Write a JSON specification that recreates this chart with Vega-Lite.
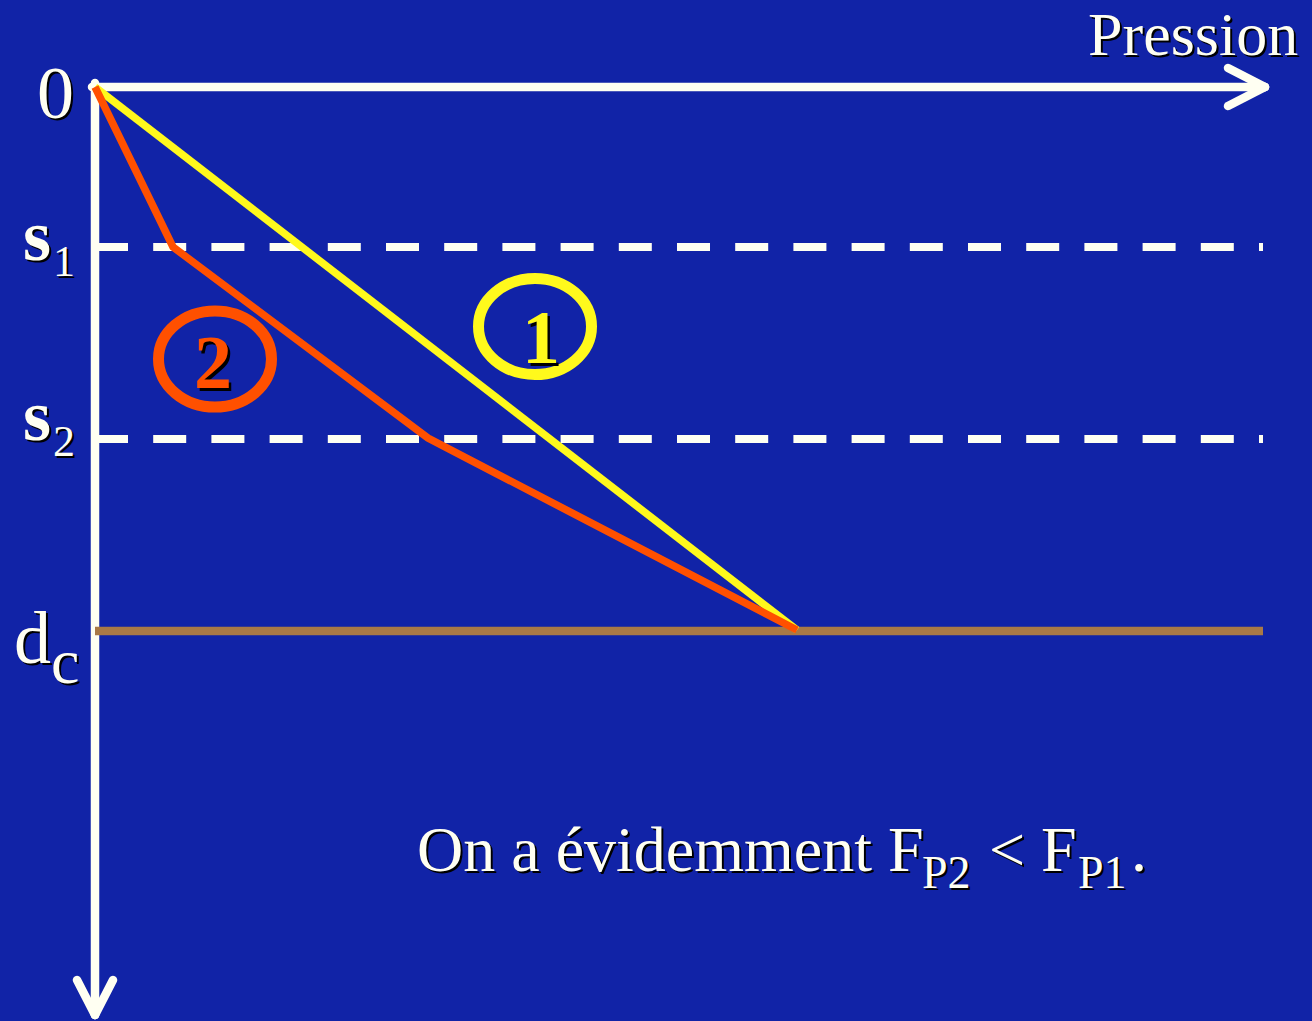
{
  "$schema": "https://vega.github.io/schema/vega-lite/v6.json",
  "width": 1312,
  "height": 1021,
  "autosize": {"type": "none"},
  "padding": 0,
  "background": "#1123A7",
  "config": {"view": {"stroke": null}},
  "datasets": {
    "axes": [
      {"x": -3, "y": 0, "x2": 1170, "y2": 0},
      {"x": 0, "y": -4, "x2": 0, "y2": 928},
      {"x": 1133, "y": -19, "x2": 1170, "y2": 0},
      {"x": 1133, "y": 19, "x2": 1170, "y2": 0},
      {"x": -18, "y": 893, "x2": 0, "y2": 928},
      {"x": 18, "y": 893, "x2": 0, "y2": 928}
    ],
    "levels": [
      {"x": 0, "y": 160, "x2": 1168},
      {"x": 0, "y": 352, "x2": 1168}
    ],
    "critical": [{"x": 0, "y": 544, "x2": 1168}],
    "curve1": [{"x": 0, "y": 0}, {"x": 702, "y": 543}],
    "curve2": [{"x": 0, "y": 0}, {"x": 78, "y": 160}, {"x": 333, "y": 351}, {"x": 702, "y": 543}],
    "rings": [
      {"x": 440, "y": 239.5, "curve": "1"},
      {"x": 120, "y": 272, "curve": "2"}
    ],
    "ringDigits": [
      {"x": 446, "y": 276, "t": "1", "curve": "1"},
      {"x": 118, "y": 301, "t": "2", "curve": "2"}
    ],
    "bigLabels": [
      {"t": "0", "x": -58, "y": 31},
      {"t": "d", "x": -81, "y": 576}
    ],
    "cLabel": [{"t": "c", "x": -44, "y": 596}],
    "sLabels": [
      {"t": "s", "x": -72, "y": 173},
      {"t": "s", "x": -72, "y": 353}
    ],
    "subLabels": [
      {"t": "1", "x": -42, "y": 189},
      {"t": "2", "x": -42, "y": 369}
    ],
    "title": [{"t": "Pression", "x": 993, "y": -32}],
    "noteMain": [
      {"t": "On a évidemment F", "x": 322, "y": 784},
      {"t": "< F", "x": 894, "y": 784},
      {"t": ".", "x": 1036, "y": 784}
    ],
    "noteSub": [
      {"t": "P2", "x": 827, "y": 801},
      {"t": "P1", "x": 983, "y": 801}
    ]
  },
  "encoding": {
    "x": {"field": "x", "type": "quantitative", "scale": {"domain": [-95, 1217], "nice": false, "zero": false}, "axis": null},
    "y": {"field": "y", "type": "quantitative", "scale": {"domain": [-87, 934], "nice": false, "zero": false, "reverse": true}, "axis": null}
  },
  "layer": [
    {
      "data": {"name": "axes"},
      "mark": {"type": "rule", "color": "#FFFFF2", "strokeWidth": 8.5, "strokeCap": "round"},
      "encoding": {"x2": {"field": "x2"}, "y2": {"field": "y2"}}
    },
    {
      "data": {"name": "levels"},
      "mark": {"type": "rule", "color": "#FFFFF2", "strokeWidth": 8, "strokeDash": [33, 25.2]},
      "encoding": {"x2": {"field": "x2"}}
    },
    {
      "data": {"name": "critical"},
      "mark": {"type": "rule", "color": "#A97946", "strokeWidth": 8.5},
      "encoding": {"x2": {"field": "x2"}}
    },
    {
      "data": {"name": "curve1"},
      "mark": {"type": "line", "color": "#FFF91C", "strokeWidth": 7.5},
      "encoding": {}
    },
    {
      "data": {"name": "curve2"},
      "mark": {"type": "line", "color": "#FF5000", "strokeWidth": 7.5},
      "encoding": {}
    },
    {
      "data": {"name": "rings"},
      "mark": {"type": "point", "shape": "M -1 0 A 1 0.85 0 1 1 1 0 A 1 0.85 0 1 1 -1 0 Z", "size": 12769, "filled": false, "strokeWidth": 11, "opacity": 1},
      "encoding": {
        "color": {"field": "curve", "type": "nominal", "scale": {"domain": ["1", "2"], "range": ["#FFF91C", "#FF5000"]}, "legend": null}
      }
    },
    {
      "data": {"name": "ringDigits"},
      "encoding": {"text": {"field": "t"}},
      "layer": [
        {"mark": {"type": "text", "font": "Liberation Serif", "fontWeight": "bold", "fontSize": 76, "align": "center", "baseline": "alphabetic", "color": "#000000", "dx": 2.5, "dy": 2.5}},
        {
          "mark": {"type": "text", "font": "Liberation Serif", "fontWeight": "bold", "fontSize": 76, "align": "center", "baseline": "alphabetic"},
          "encoding": {"color": {"field": "curve", "type": "nominal", "scale": {"domain": ["1", "2"], "range": ["#FFF91C", "#FF5000"]}, "legend": null}}
        }
      ]
    },
    {
      "data": {"name": "bigLabels"},
      "encoding": {"text": {"field": "t"}},
      "layer": [
        {"mark": {"type": "text", "font": "Liberation Serif", "fontSize": 74, "align": "left", "baseline": "alphabetic", "color": "#000000", "dx": 2, "dy": 2}},
        {"mark": {"type": "text", "font": "Liberation Serif", "fontSize": 74, "align": "left", "baseline": "alphabetic", "color": "#FFFFF2"}}
      ]
    },
    {
      "data": {"name": "cLabel"},
      "encoding": {"text": {"field": "t"}},
      "layer": [
        {"mark": {"type": "text", "font": "Liberation Serif", "fontSize": 64, "align": "left", "baseline": "alphabetic", "color": "#000000", "dx": 2, "dy": 2}},
        {"mark": {"type": "text", "font": "Liberation Serif", "fontSize": 64, "align": "left", "baseline": "alphabetic", "color": "#FFFFF2"}}
      ]
    },
    {
      "data": {"name": "sLabels"},
      "encoding": {"text": {"field": "t"}},
      "layer": [
        {"mark": {"type": "text", "font": "Liberation Serif", "fontWeight": "bold", "fontSize": 72, "align": "left", "baseline": "alphabetic", "color": "#000000", "dx": 2, "dy": 2}},
        {"mark": {"type": "text", "font": "Liberation Serif", "fontWeight": "bold", "fontSize": 72, "align": "left", "baseline": "alphabetic", "color": "#FFFFF2"}}
      ]
    },
    {
      "data": {"name": "subLabels"},
      "encoding": {"text": {"field": "t"}},
      "layer": [
        {"mark": {"type": "text", "font": "Liberation Serif", "fontSize": 44, "align": "left", "baseline": "alphabetic", "color": "#000000", "dx": 2, "dy": 2}},
        {"mark": {"type": "text", "font": "Liberation Serif", "fontSize": 44, "align": "left", "baseline": "alphabetic", "color": "#FFFFF2"}}
      ]
    },
    {
      "data": {"name": "title"},
      "encoding": {"text": {"field": "t"}},
      "layer": [
        {"mark": {"type": "text", "font": "Liberation Serif", "fontSize": 62, "align": "left", "baseline": "alphabetic", "color": "#000000", "dx": 2, "dy": 2}},
        {"mark": {"type": "text", "font": "Liberation Serif", "fontSize": 62, "align": "left", "baseline": "alphabetic", "color": "#FFFFF2"}}
      ]
    },
    {
      "data": {"name": "noteMain"},
      "encoding": {"text": {"field": "t"}},
      "layer": [
        {"mark": {"type": "text", "font": "Liberation Serif", "fontSize": 64, "align": "left", "baseline": "alphabetic", "color": "#000000", "dx": 2, "dy": 2}},
        {"mark": {"type": "text", "font": "Liberation Serif", "fontSize": 64, "align": "left", "baseline": "alphabetic", "color": "#FFFFF2"}}
      ]
    },
    {
      "data": {"name": "noteSub"},
      "encoding": {"text": {"field": "t"}},
      "layer": [
        {"mark": {"type": "text", "font": "Liberation Serif", "fontSize": 46, "align": "left", "baseline": "alphabetic", "color": "#000000", "dx": 2, "dy": 2}},
        {"mark": {"type": "text", "font": "Liberation Serif", "fontSize": 46, "align": "left", "baseline": "alphabetic", "color": "#FFFFF2"}}
      ]
    }
  ]
}
